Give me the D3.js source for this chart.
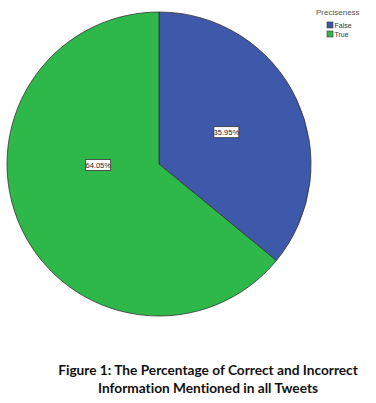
<!DOCTYPE html>
<html>
<head>
<meta charset="utf-8">
<script src="https://cdn.jsdelivr.net/npm/d3@7"></script>
<style>
  body { margin: 0; background: #fff; }
  svg { display: block; }
</style>
</head>
<body>
<div id="chart"></div>
<script>
var width = 376
var height = 403

// data
var categories = ["False", "True"]
var percents = [35.95, 64.05]
var colors = ["#3e58aa", "#2eb84a"]
var legendTitle = "Preciseness"
var captionLines = ["Figure 1: The Percentage of Correct and Incorrect", "Information Mentioned in all Tweets"]

var cx = 159, cy = 164, radius = 152

var svg = d3.select("#chart")
    .append("svg")
    .attr("width", width)
    .attr("height", height)

var pie = d3.pie()
    .sort(null)
    .value(function(d) { return d })

var arc = d3.arc()
    .innerRadius(0)
    .outerRadius(radius)

var arcs = pie(percents)

var g = svg.append("g")
    .attr("transform", "translate(" + cx + "," + cy + ")")

g.selectAll("path.slice")
    .data(arcs)
    .enter()
    .append("path")
    .attr("class", "slice")
    .attr("d", arc)
    .attr("fill", function(d, i) { return colors[i] })
    .attr("stroke", "#333")
    .attr("stroke-width", 0.8)

// SPSS-ish label placement: small slice at centroid, big one pushed to the side
function labelPos(d, i)
{
    if (i == 0) {
        var mid = (d.startAngle + d.endAngle) / 2
        return [Math.sin(mid) * radius * 0.49, -Math.cos(mid) * radius * 0.49]
    }
    return [-radius * 0.4, 1]
}

var labels = g.selectAll("g.lbl")
    .data(arcs)
    .enter()
    .append("g")
    .attr("class", "lbl")
    .attr("transform", function(d, i) {
        var p = labelPos(d, i)
        return "translate(" + p[0] + "," + p[1] + ")"
    })

labels.append("rect")
    .attr("x", -12.5)
    .attr("y", -5.5)
    .attr("width", 25)
    .attr("height", 11)
    .attr("fill", "#fff")
    .attr("stroke", "#333")
    .attr("stroke-width", 0.8)

labels.append("text")
    .attr("text-anchor", "middle")
    .attr("dy", "0.35em")
    .style("font-family", "Liberation Sans, Arial, sans-serif")
    .style("font-size", "7.5px")
    .attr("fill", "#222")
    .text(function(d, i) { return percents[i].toFixed(2) + "%" })

// legend
var legend = svg.append("g")
    .attr("transform", "translate(316,0)")

legend.append("text")
    .attr("x", 0)
    .attr("y", 15)
    .style("font-family", "Liberation Sans, Arial, sans-serif")
    .style("font-size", "8px")
    .attr("fill", "#555")
    .text(legendTitle)

var items = legend.selectAll("g.item")
    .data(categories)
    .enter()
    .append("g")
    .attr("class", "item")
    .attr("transform", function(d, i) { return "translate(11," + (22 + i * 9) + ")" })

items.append("rect")
    .attr("width", 6)
    .attr("height", 6)
    .attr("fill", function(d, i) { return colors[i] })
    .attr("stroke", "#333")
    .attr("stroke-width", 0.6)

items.append("text")
    .attr("x", 7.5)
    .attr("y", 6)
    .style("font-family", "Liberation Sans, Arial, sans-serif")
    .style("font-size", "7px")
    .attr("fill", "#333")
    .text(function(d) { return d })

// caption
svg.selectAll("text.caption")
    .data(captionLines)
    .enter()
    .append("text")
    .attr("class", "caption")
    .attr("x", 208)
    .attr("y", function(d, i) { return 374.5 + i * 18 })
    .attr("text-anchor", "middle")
    .style("font-family", "Lato, sans-serif")
    .style("font-weight", "bold")
    .style("font-size", "13.7px")
    .style("font-variant-ligatures", "none")
    .attr("fill", "#111")
    .text(function(d) { return d })
</script>
</body>
</html>
